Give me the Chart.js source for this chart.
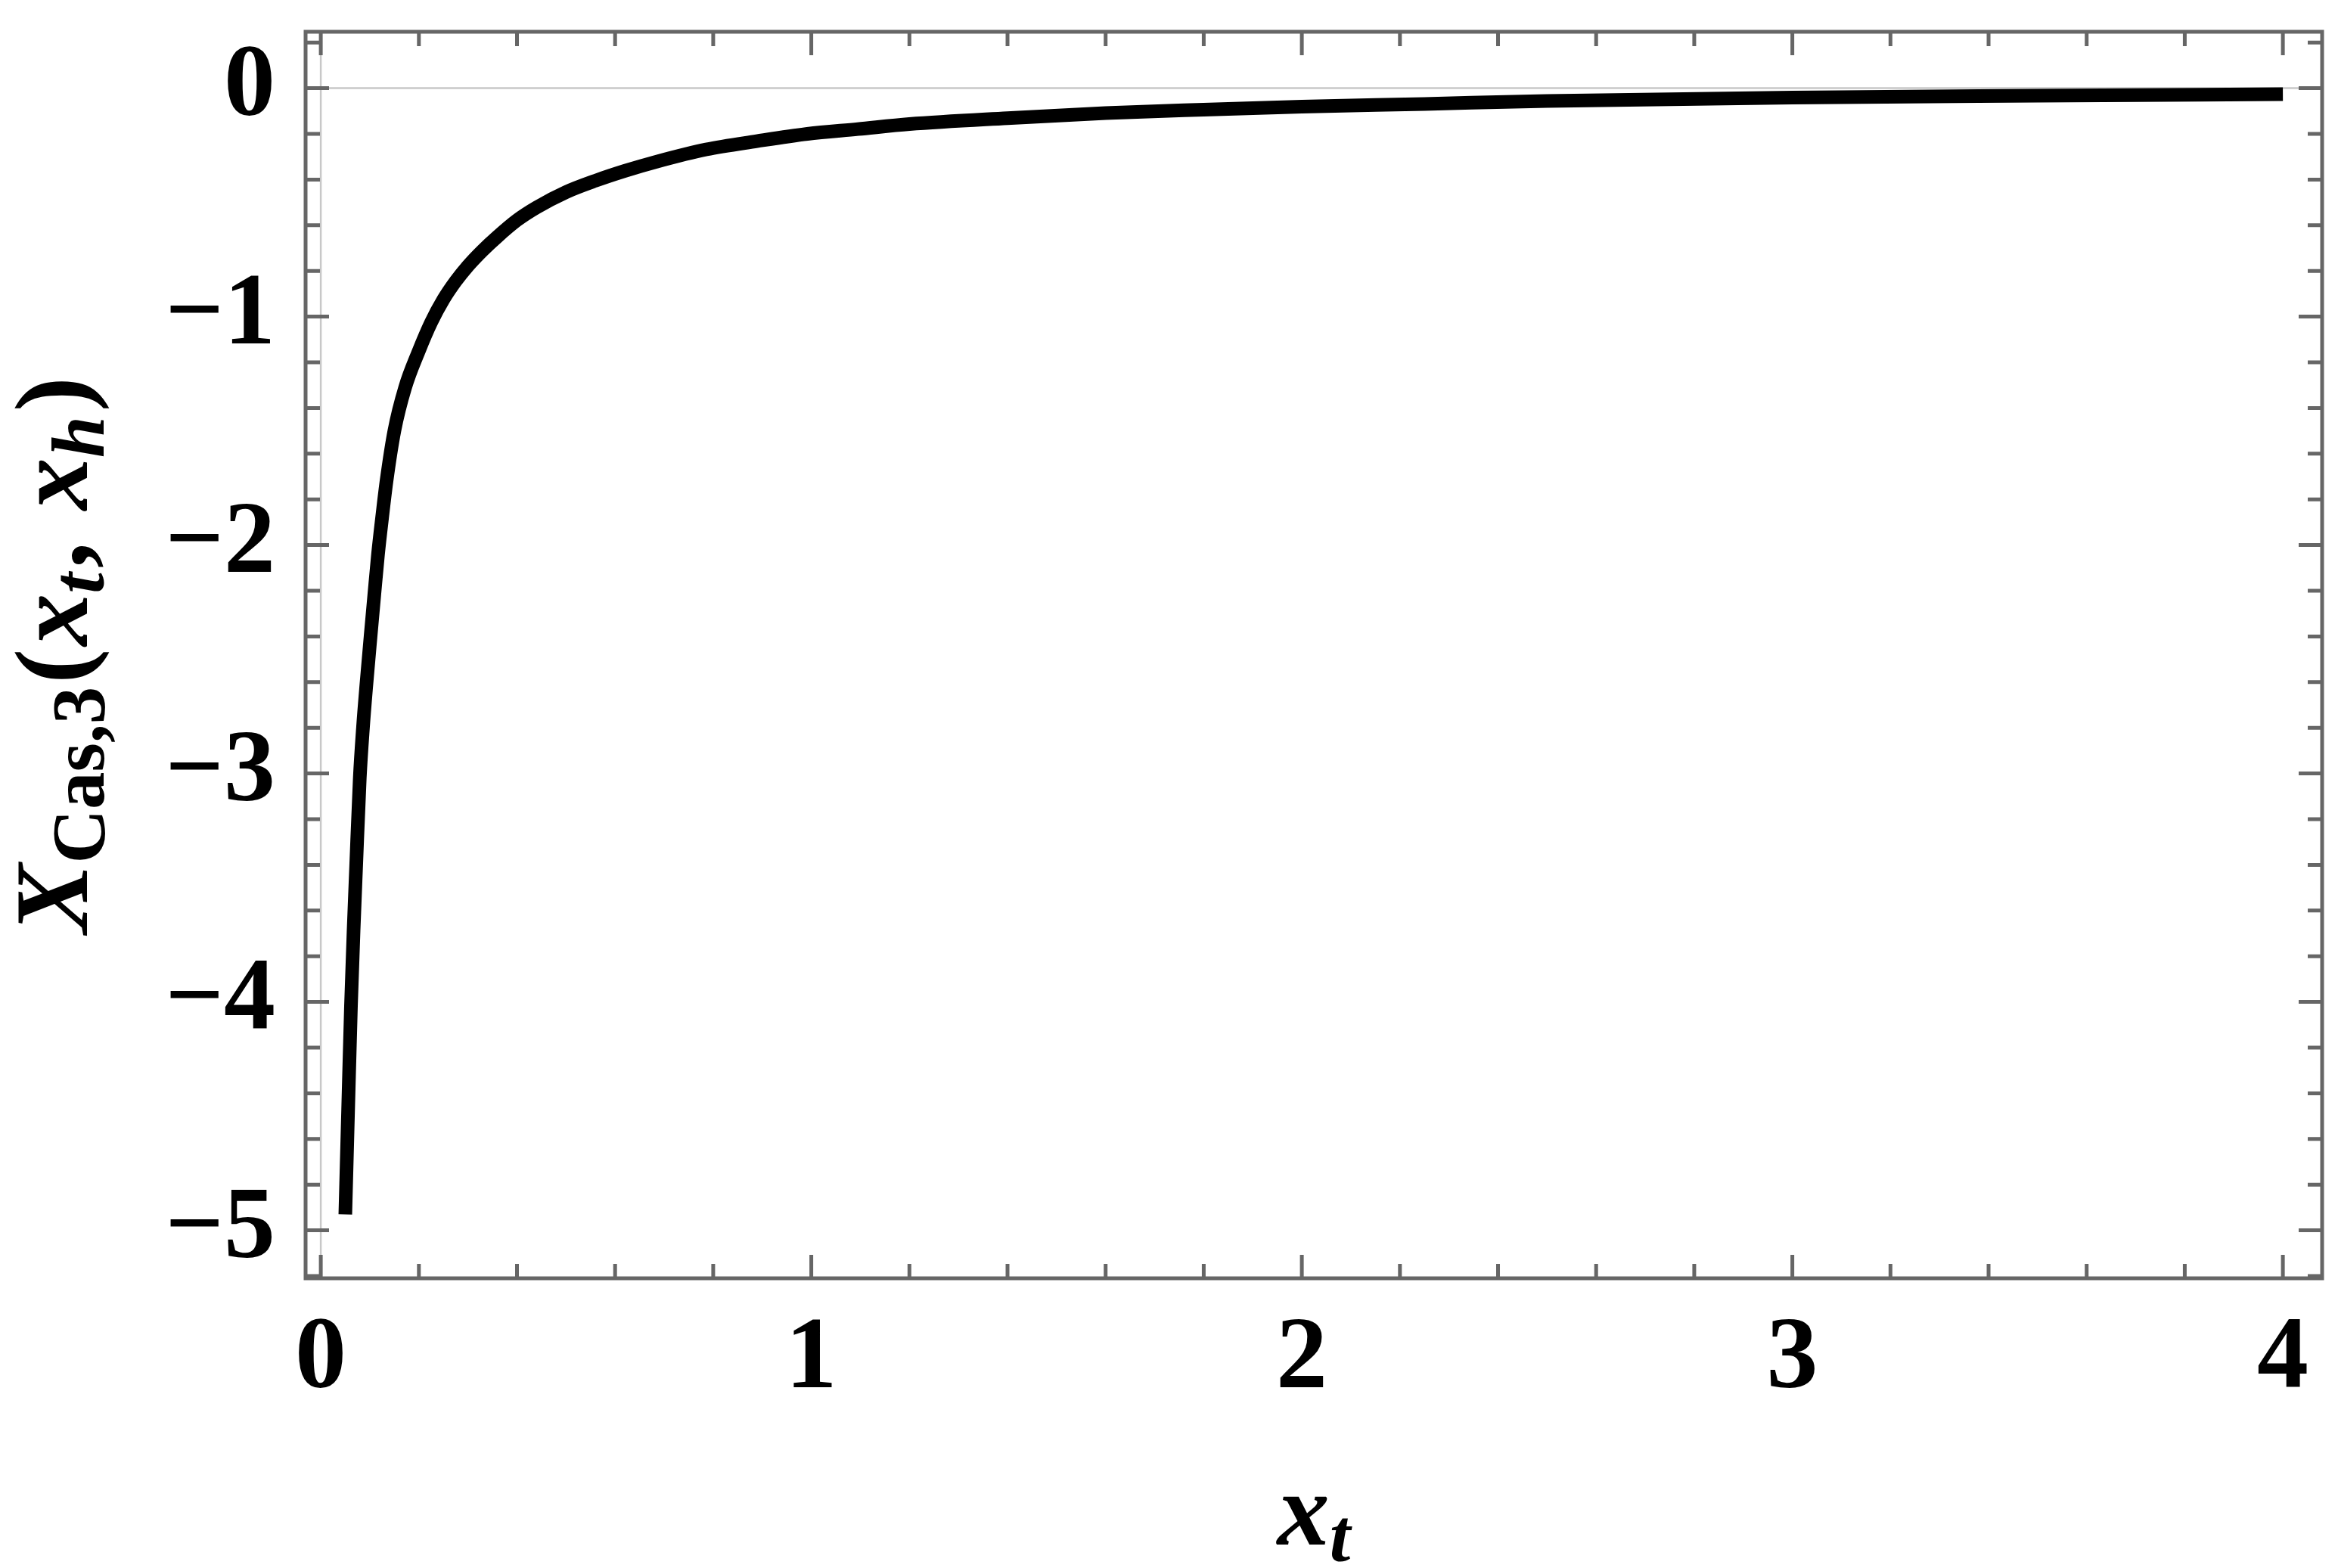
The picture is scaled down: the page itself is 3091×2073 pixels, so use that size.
<!DOCTYPE html>
<html>
<head>
<meta charset="utf-8">
<script src="https://cdn.jsdelivr.net/npm/chart.js@4.4.1/dist/chart.umd.min.js"></script>
<style>
  html, body { margin: 0; padding: 0; background: #fff; }
  #wrap { width: 3091px; height: 2073px; position: relative; }
</style>
</head>
<body>
<div id="wrap"><canvas id="casChart"></canvas></div>
<script>
  // values
  const xValues = [0.050, 0.056, 0.0615, 0.067, 0.072, 0.0795, 0.086, 0.093, 0.1015, 0.109, 0.1167, 0.125, 0.134,
    0.150, 0.172, 0.199, 0.225, 0.25, 0.275, 0.30, 0.33, 0.36, 0.40, 0.44, 0.50, 0.56, 0.62, 0.684, 0.786, 0.889,
    0.992, 1.095, 1.2, 1.4, 1.6, 1.8, 2.0, 2.25, 2.5, 3.0, 3.5, 4.0];
  const yValues = [-4.93, -4.45, -4.02, -3.68, -3.41, -3.02, -2.80, -2.61, -2.40, -2.22, -2.04, -1.88, -1.72,
    -1.50, -1.31, -1.155, -1.025, -0.925, -0.845, -0.778, -0.71, -0.65, -0.578, -0.522, -0.455, -0.405, -0.362, -0.322, -0.268, -0.232,
    -0.200, -0.179, -0.157, -0.131, -0.109, -0.094, -0.081, -0.069, -0.056, -0.041, -0.033, -0.0265];

  const xMajorTicks = [0, 1, 2, 3, 4];
  const yMajorTicks = [-5, -4, -3, -2, -1, 0];
  const xMinorTicks = [];
  const yMinorTicks = [];
  for (let i = 0; i <= 20; i++) if (i % 5) xMinorTicks.push(i / 5);
  for (let i = -26; i <= 1; i++) if (i % 5) yMinorTicks.push(i / 5);

  const FRAME = '#666666';
  const SERIF = "'Liberation Serif', 'Times New Roman', serif";

  const points = [];
  for (let i = 0; i < xValues.length; i++) {
    points.push({ x: xValues[i], y: yValues[i] });
  }

  function drawRuns(ctx, runs) {
    let total = 0;
    runs.forEach(r => { ctx.font = r.font; r.w = ctx.measureText(r.text).width + (r.gap || 0); total += r.w; });
    let x = -total / 2;
    runs.forEach(r => {
      ctx.font = r.font;
      ctx.fillText(r.text, x, r.dy || 0);
      x += r.w;
    });
  }

  const framePlugin = {
    id: 'frame',
    beforeDatasetsDraw(chart) {
      const { ctx, chartArea: a, scales } = chart;
      const x0 = scales.x.getPixelForValue(0);
      const y0 = scales.y.getPixelForValue(0);
      ctx.save();
      ctx.strokeStyle = '#c8c8c8';
      ctx.lineWidth = 2.5;
      ctx.beginPath();
      ctx.moveTo(a.left, y0); ctx.lineTo(a.right, y0);
      ctx.moveTo(x0, a.top); ctx.lineTo(x0, a.bottom);
      ctx.stroke();
      ctx.restore();
    },
    afterDatasetsDraw(chart) {
      const { ctx, chartArea: a, scales } = chart;
      ctx.save();
      ctx.strokeStyle = FRAME;
      ctx.lineWidth = 5;
      ctx.beginPath();
      const tick = (vals, len) => {
        vals.forEach(v => {
          const px = scales.x.getPixelForValue(v);
          ctx.moveTo(px, a.bottom); ctx.lineTo(px, a.bottom - len);
          ctx.moveTo(px, a.top); ctx.lineTo(px, a.top + len);
        });
      };
      const ytick = (vals, len) => {
        vals.forEach(v => {
          const py = scales.y.getPixelForValue(v);
          if (py < a.top || py > a.bottom) return;
          ctx.moveTo(a.left, py); ctx.lineTo(a.left + len, py);
          ctx.moveTo(a.right, py); ctx.lineTo(a.right - len, py);
        });
      };
      tick(xMajorTicks, 31);
      tick(xMinorTicks, 19);
      ytick(yMajorTicks, 31);
      ytick(yMinorTicks, 19);
      ctx.stroke();
      ctx.strokeRect(a.left, a.top, a.right - a.left, a.bottom - a.top);
      ctx.restore();
    },
    afterDraw(chart) {
      const { ctx, chartArea: a } = chart;
      const big = 138, small = 99, sub = 22;
      ctx.save();
      ctx.fillStyle = '#000';
      ctx.textBaseline = 'alphabetic';

      // x axis title
      ctx.save();
      ctx.translate((a.left + a.right) / 2, 2042);
      drawRuns(ctx, [
        { text: 'x', font: `italic bold ${big}px ${SERIF}` },
        { text: 't', font: `italic bold ${small}px ${SERIF}`, dy: sub }
      ]);
      ctx.restore();

      // y axis title
      ctx.save();
      ctx.translate(115, (a.top + a.bottom) / 2);
      ctx.rotate(-Math.PI / 2);
      drawRuns(ctx, [
        { text: 'X', font: `italic bold ${big}px ${SERIF}` },
        { text: 'Cas,3', font: `bold ${small}px ${SERIF}`, dy: sub, gap: 4 },
        { text: '(', font: `bold ${big}px ${SERIF}`, gap: 4 },
        { text: 'x', font: `italic bold ${big}px ${SERIF}` },
        { text: 't', font: `italic bold ${small}px ${SERIF}`, dy: sub, gap: 6 },
        { text: ', ', font: `bold ${big}px ${SERIF}`, gap: 8 },
        { text: 'x', font: `italic bold ${big}px ${SERIF}` },
        { text: 'h', font: `italic bold ${small}px ${SERIF}`, dy: sub, gap: 6 },
        { text: ')', font: `bold ${big}px ${SERIF}` }
      ]);
      ctx.restore();
      ctx.restore();
    }
  };

  const tickFont = { family: SERIF, size: 136, weight: 'bold' };
  const fmt = v => v < 0 ? '\u2212' + Math.abs(v) : String(v);
  const noPad = s => { s.paddingTop = 0; s.paddingBottom = 0; s.paddingLeft = 0; s.paddingRight = 0; };

  new Chart(document.getElementById('casChart'), {
    type: 'line',
    data: {
      datasets: [{
        data: points,
        borderColor: '#000',
        borderWidth: 18,
        borderCapStyle: 'butt',
        borderJoinStyle: 'round',
        pointRadius: 0,
        cubicInterpolationMode: 'monotone',
        fill: false
      }]
    },
    options: {
      responsive: true,
      maintainAspectRatio: false,
      devicePixelRatio: 1,
      animation: false,
      layout: { padding: { top: 42, right: 21, left: 0, bottom: 0 } },
      plugins: { legend: { display: false }, tooltip: { enabled: false } },
      scales: {
        x: {
          type: 'linear',
          min: -0.031,
          max: 4.08,
          grid: { display: false },
          border: { display: false },
          afterBuildTicks: s => { s.ticks = xMajorTicks.map(v => ({ value: v })); },
          afterFit: s => { s.height = 383; noPad(s); },
          ticks: { color: '#000', font: tickFont, padding: 19, maxRotation: 0, callback: fmt }
        },
        y: {
          type: 'linear',
          min: -5.21,
          max: 0.247,
          grid: { display: false },
          border: { display: false },
          afterBuildTicks: s => { s.ticks = yMajorTicks.map(v => ({ value: v })); },
          afterFit: s => { s.width = 404; noPad(s); },
          ticks: { color: '#000', font: tickFont, padding: 32, callback: fmt }
        }
      }
    },
    plugins: [framePlugin]
  });
</script>
</body>
</html>
